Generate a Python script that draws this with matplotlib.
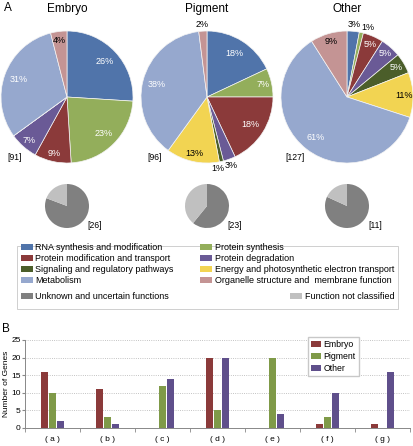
import numpy as np
import matplotlib.pyplot as plt
from matplotlib.patches import Patch, Rectangle

plt.rcParams['font.family'] = ['Liberation Sans', 'DejaVu Sans']

W, H = 414, 446

# functional categories (pie wedges, clockwise from 12 o'clock)
categories = ['RNA synthesis and modification', 'Protein synthesis',
              'Protein modification and transport', 'Protein degradation',
              'Signaling and regulatory pathways',
              'Energy and photosynthetic electron transport',
              'Metabolism', 'Organelle structure and  membrane function']
cat_colors = ['#5074aa', '#93ae5b', '#8b3a3a', '#6a5a96',
              '#4b5e2a', '#f2d452', '#96a8ce', '#c49494']

tissues = ['Embryo', 'Pigment', 'Other']
embryo_pct = [26, 23, 9, 7, 0, 0, 31, 4]
pigment_pct = [18, 7, 18, 3, 1, 13, 38, 2]
other_pct = [3, 1, 5, 5, 5, 11, 61, 9]
classified_n = [91, 96, 127]

# small pies: unknown vs not classified
unknown_n = [21, 14, 9]
unclassified_n = [5, 9, 2]
grey_labels = ['Unknown and uncertain functions', 'Function not classified']
grey_colors = ['#808080', '#c0c0c0']

# panel B
groups = ['a', 'b', 'c', 'd', 'e', 'f', 'g']
bar_embryo = [16, 11, 0, 20, 0, 1, 1]
bar_pigment = [10, 3, 12, 5, 20, 3, 0]
bar_other = [2, 1, 14, 20, 4, 10, 16]
bar_colors = ['#8b3a3a', '#7f9a48', '#5f4f8b']

fig = plt.figure(figsize=(W / 100, H / 100), dpi=100)


def px_axes(x0, y0, w, h):
    # axes from pixel box (top-left origin)
    return fig.add_axes([x0 / W, 1 - (y0 + h) / H, w / W, h / H])


def draw_pie(ax, vals):
    wedges, _ = ax.pie(vals, colors=cat_colors, startangle=90, counterclock=False,
                       wedgeprops=dict(edgecolor='#f4f4f4', linewidth=0.5))
    prev = None
    for w, v, c in zip(wedges, vals, cat_colors):
        if v <= 0:
            continue
        ang = np.deg2rad((w.theta1 + w.theta2) / 2)
        if v <= 3:
            col = 'black'
            tx, ty = 1.1 * np.cos(ang), 1.1 * np.sin(ang)
            # push neighbouring outside labels apart along the clockwise tangent
            if prev is not None:
                d = np.hypot(tx - prev[0], ty - prev[1])
                if d < 0.21:
                    step = 0.21 - d
                    tx += step * np.sin(ang)
                    ty -= step * np.cos(ang)
            prev = (tx, ty)
        else:
            r = 0.78 if v >= 15 else 0.87
            tx, ty = r * np.cos(ang), r * np.sin(ang)
            col = 'black' if c in ('#f2d452', '#c49494') else 'white'
        ax.text(tx, ty, f'{v}%', ha='center', va='center', fontsize=6.5, color=col)
    ax.set_xlim(-1, 1)
    ax.set_ylim(-1, 1)
    ax.set_axis_off()


centers_x = [67, 207, 347]
pct_sets = [embryo_pct, pigment_pct, other_pct]
for i, cx in enumerate(centers_x):
    ax = px_axes(cx - 66, 97 - 66, 132, 132)
    draw_pie(ax, pct_sets[i])
    fig.text(cx / W, 1 - 9 / H, tissues[i], ha='center', va='center', fontsize=8.5)
    fig.text((cx - 52) / W, 1 - 157 / H, f'[{classified_n[i]}]', ha='center',
             va='center', fontsize=6.2)

    sax = px_axes(cx - 22, 206 - 22, 44, 44)
    sax.pie([unknown_n[i], unclassified_n[i]], colors=grey_colors, startangle=90,
            counterclock=False)
    sax.set_xlim(-1, 1)
    sax.set_ylim(-1, 1)
    sax.set_axis_off()
    fig.text((cx + 28) / W, 1 - 225 / H, f'[{unknown_n[i] + unclassified_n[i]}]',
             ha='center', va='center', fontsize=6.2)

fig.text(4 / W, 1 - 8 / H, 'A', ha='left', va='center', fontsize=8.5)

# shared legend for panel A
fig.patches.append(Rectangle((17 / W, 1 - 309 / H), 381 / W, 63 / H,
                             transform=fig.transFigure, facecolor='white',
                             edgecolor='#c8c8c8', linewidth=0.6))
order = [0, 2, 4, 6, 1, 3, 5, 7]
handles = [Patch(facecolor=cat_colors[k], label=categories[k]) for k in order]
leg_kw = dict(ncol=2, loc='upper left', mode='expand', frameon=False, fontsize=6.5,
              handlelength=1.3, handleheight=0.6, handletextpad=0.3,
              labelspacing=0.22, borderaxespad=0, borderpad=0.2)
fig.legend(handles=handles, bbox_to_anchor=(19 / W, 1 - 246 / H, 377 / W, 0.01), **leg_kw)
ghandles = [Patch(facecolor=c, label=l) for c, l in zip(grey_colors, grey_labels)]
fig.legend(handles=ghandles, bbox_to_anchor=(19 / W, 1 - 295 / H, 377 / W, 0.01), **leg_kw)

# panel B
fig.text(2 / W, 1 - 329 / H, 'B', ha='left', va='center', fontsize=8.5)
bx = px_axes(25, 340, 385, 88)
x = np.arange(len(groups))
bw = 0.125
for off, vals, col, name in zip([-0.14, 0, 0.14], [bar_embryo, bar_pigment, bar_other],
                                bar_colors, tissues):
    bx.bar(x + off, vals, width=bw, color=col, label=name, zorder=3)
bx.set_xlim(-0.5, len(groups) - 0.5)
bx.set_ylim(0, 25)
bx.set_yticks(np.arange(0, 26, 5))
bx.set_xticks(x)
bx.set_xticklabels([f'( {g} )' for g in groups], fontsize=6)
bx.set_xticks(np.arange(-0.5, len(groups), 1), minor=True)
bx.tick_params(axis='x', which='major', length=0, pad=6)
bx.tick_params(axis='x', which='minor', length=3, color='#888888')
bx.tick_params(axis='y', labelsize=6, length=2, color='#888888', pad=1)
bx.yaxis.grid(True, linestyle=':', color='#b0b0b0', linewidth=0.6)
for s in ['top', 'right']:
    bx.spines[s].set_visible(False)
for s in ['left', 'bottom']:
    bx.spines[s].set_color('#888888')
    bx.spines[s].set_linewidth(0.7)
bx.set_ylabel('Number of Genes', fontsize=6, labelpad=1)
bx.legend(loc='upper left', bbox_to_anchor=(283 / 385, 1.03), fontsize=6.3,
          frameon=True, fancybox=False, edgecolor='#c8c8c8', framealpha=1,
          handlelength=1.2, handleheight=0.7, handletextpad=0.3, labelspacing=0.37,
          borderpad=0.3, borderaxespad=0)

fig.savefig('out.png', dpi=100)
